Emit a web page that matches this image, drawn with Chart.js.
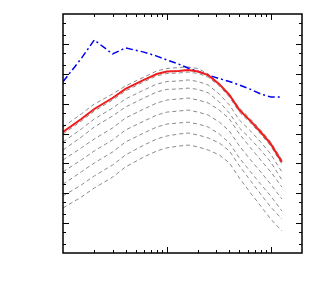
<!DOCTYPE html>
<html>
<head>
<meta charset="utf-8">
<script src="https://cdn.jsdelivr.net/npm/chart.js@4"></script>
<style>
  body { margin: 0; background: #fff; }
  #wrap { width: 329px; height: 300px; }
</style>
</head>
<body>
<div id="wrap"><canvas id="chart"></canvas></div>
<script>
// x positions shared by all curves
var xVals = [1, 1.5, 2, 3, 4, 6, 8, 10, 13, 16, 20, 25, 32, 40, 50, 64, 80, 100, 128];

var redVals  = [1.12e4, 3.05e4, 6.6e4, 1.54e5, 3.1e5, 6.2e5, 9.8e5, 1.19e6, 1.24e6, 1.33e6, 1.19e6, 9.0e5, 4.5e5, 1.95e5, 6.1e4, 2.6e4, 1.12e4, 4.5e3, 1.11e3];
var blueVals = [5.4e5, 3.25e6, 1.35e7, 4.6e6, 7.3e6, 5.3e6, 3.9e6, 2.9e6, 2.1e6, 1.56e6, 1.19e6, 9.0e5, 6.9e5, 5.5e5, 4.2e5, 3.0e5, 2.1e5, 1.67e5, 1.67e5];

// gray dashed family, top to bottom
var gray1 = [1.65e4, 4.5e4, 9.7e4, 2.1e5, 3.9e5, 7.7e5, 1.24e6, 1.5e6, 1.62e6, 1.68e6, 1.5e6, 9.8e5, 4.5e5, 1.95e5, 7.1e4, 3.05e4, 1.31e4, 5.2e3, 1.3e3];
var gray2 = [9.6e3, 2.6e4, 5.65e4, 1.32e5, 2.65e5, 5.4e5, 8.5e5, 1.02e6, 1.06e6, 1.14e6, 1.02e6, 7.7e5, 3.9e5, 1.67e5, 5.2e4, 2.25e4, 9.6e3, 3.8e3, 9.5e2];
var gray3 = [5.2e3, 1.41e4, 3.05e4, 7.1e4, 1.43e5, 2.85e5, 4.5e5, 5.5e5, 5.7e5, 6.2e5, 5.5e5, 4.2e5, 2.1e5, 9.0e4, 2.8e4, 1.21e4, 5.2e3, 2.05e3, 5.2e2];
var gray4 = [2.8e3, 7.6e3, 1.65e4, 3.85e4, 7.7e4, 1.54e5, 2.45e5, 3.0e5, 3.1e5, 3.3e5, 3.0e5, 2.3e5, 1.13e5, 4.85e4, 1.53e4, 6.55e3, 2.8e3, 1.11e3, 2.8e2];
var gray5 = [1.3e3, 3.3e3, 6.55e3, 1.53e4, 3.3e4, 6.6e4, 1.05e5, 1.32e5, 1.43e5, 1.54e5, 1.32e5, 1.05e5, 6.1e4, 3.05e4, 9.6e3, 3.3e3, 1.3e3, 5.2e2, 1.62e2];
var gray6 = [5.2e2, 1.3e3, 2.6e3, 6.1e3, 1.31e4, 2.6e4, 4.15e4, 5.2e4, 5.65e4, 6.1e4, 5.2e4, 4.15e4, 2.4e4, 1.21e4, 3.8e3, 1.3e3, 5.2e2, 2.0e2, 6.4e1];
var gray7 = [2.0e2, 5.2e2, 1.03e3, 2.4e3, 5.2e3, 1.04e4, 1.65e4, 2.07e4, 2.25e4, 2.4e4, 2.07e4, 1.65e4, 9.6e3, 4.8e3, 1.5e3, 5.2e2, 2.0e2, 8.1e1, 2.55e1];
var gray8 = [8.1e1, 1.89e2, 3.8e2, 8.8e2, 1.91e3, 4.1e3, 6.55e3, 8.25e3, 9.6e3, 1.04e4, 8.9e3, 7.1e3, 4.8e3, 2.6e3, 8.2e2, 2.6e2, 9.4e1, 3.45e1, 1.37e1];
var gray9 = [3.2e1, 7.45e1, 1.5e2, 3.45e2, 7.6e2, 1.64e3, 2.6e3, 3.3e3, 3.8e3, 4.1e3, 3.55e3, 2.8e3, 1.91e3, 1.03e3, 3.2e2, 1.02e2, 3.75e1, 1.37e1, 5.45];
var grayList = [gray1, gray2, gray3, gray4, gray5, gray6, gray7, gray8, gray9];

// axis ranges and tick mantissas
var xRange = [1, 200];
var yRange = [1, 1e8];
var xTickMant = [1, 2, 3, 4, 5, 6, 7, 8, 9];
var yTickMant = [1, 2, 5];

function pts(vals) {
  return xVals.map(function (x, i) { return { x: x, y: vals[i] }; });
}

var sets = [
  { data: pts(redVals), borderColor: '#ee1c1c', borderWidth: 2 },
  { data: pts(blueVals), borderColor: '#0000ee', borderWidth: 1.5, borderDash: [7, 3, 2, 3] }
];
grayList.forEach(function (g) {
  sets.push({ data: pts(g), borderColor: '#8a8a8a', borderWidth: 1, borderDash: [4, 3] });
});

// inward ticks on all four sides plus the frame
var frameTicks = {
  id: 'frameTicks',
  afterDraw: function (chart) {
    var ctx = chart.ctx, a = chart.chartArea, xs = chart.scales.x, ys = chart.scales.y;
    ctx.save();
    ctx.strokeStyle = '#000';
    ctx.lineWidth = 1;
    ctx.beginPath();
    for (var e = 0; e <= 3; e++) {
      xTickMant.forEach(function (m) {
        var v = m * Math.pow(10, e);
        if (v <= xRange[0] || v >= xRange[1]) return;
        var px = Math.round(xs.getPixelForValue(v)) + 0.5;
        var len = m === 1 ? 6 : 3;
        ctx.moveTo(px, a.bottom); ctx.lineTo(px, a.bottom - len);
        ctx.moveTo(px, a.top); ctx.lineTo(px, a.top + len);
      });
    }
    for (var k = 0; k <= 8; k++) {
      yTickMant.forEach(function (m) {
        var v = m * Math.pow(10, k);
        if (v <= yRange[0] || v >= yRange[1]) return;
        var py = Math.round(ys.getPixelForValue(v)) + 0.5;
        var len = m === 1 ? 6 : 3;
        ctx.moveTo(a.left, py); ctx.lineTo(a.left + len, py);
        ctx.moveTo(a.right, py); ctx.lineTo(a.right - len, py);
      });
    }
    ctx.stroke();
    ctx.lineWidth = 1.5;
    ctx.strokeRect(a.left, a.top, a.right - a.left, a.bottom - a.top);
    ctx.restore();
  }
};

new Chart(document.getElementById('chart'), {
  type: 'line',
  data: { datasets: sets },
  options: {
    responsive: true,
    maintainAspectRatio: false,
    animation: false,
    layout: { padding: { left: 63, top: 14, right: 27, bottom: 47 } },
    elements: { point: { radius: 0 }, line: { tension: 0, fill: false } },
    plugins: { legend: { display: false }, tooltip: { enabled: false } },
    scales: {
      x: { type: 'logarithmic', min: xRange[0], max: xRange[1], display: false },
      y: { type: 'logarithmic', min: yRange[0], max: yRange[1], display: false }
    }
  },
  plugins: [frameTicks]
});
</script>
</body>
</html>
